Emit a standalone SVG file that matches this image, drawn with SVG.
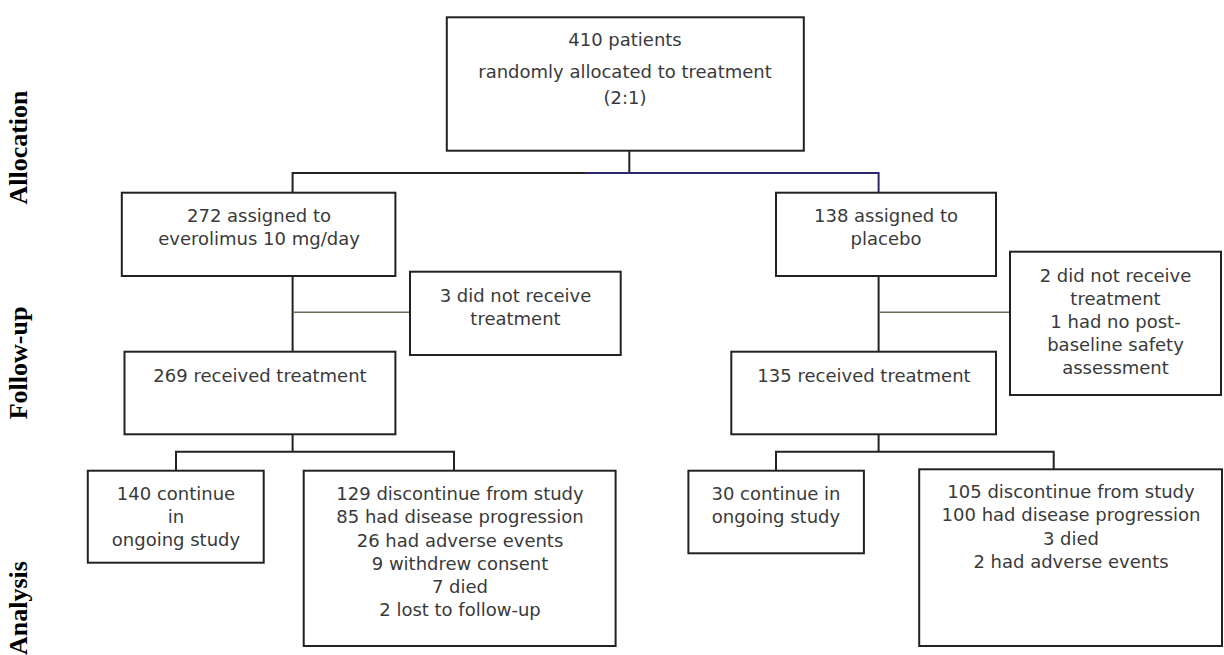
<svg xmlns="http://www.w3.org/2000/svg" width="1224" height="655" viewBox="0 0 1224 655">
<style>
.box{fill:#fff;stroke:#222;stroke-width:2}
.t{font-family:"DejaVu Sans","Liberation Sans",sans-serif;font-size:18px;fill:#3a3a3a;text-anchor:middle}
.lbl{font-family:"Liberation Serif","Times New Roman",serif;font-size:26px;font-weight:bold;fill:#000;text-anchor:middle}
.c{fill:none;stroke:#222;stroke-width:2}
.cl{fill:none;stroke:#6a6a58;stroke-width:1.5}
</style>
<rect width="1224" height="655" fill="#fff"/>
<g id="labels">
<text class="lbl" transform="translate(27,147.5) rotate(-90)">Allocation</text>
<text class="lbl" transform="translate(27,363) rotate(-90)">Follow-up</text>
<text class="lbl" transform="translate(27,608) rotate(-90)">Analysis</text>
</g>
<g id="connectors">
<path class="c" d="M629.3,151 V173"/>
<path class="c" d="M292.6,193 V173 H585"/>
<path class="c" stroke="#2a2a6a" style="stroke:#2a2a6a" d="M585,173 H878.6 V193"/>
<path class="c" d="M292.6,276 V352"/>
<path class="cl" d="M292.6,312.3 H410"/>
<path class="c" d="M878.6,276 V352"/>
<path class="cl" d="M878.6,312.3 H1010"/>
<path class="c" d="M292.6,434.3 V451.7"/>
<path class="c" d="M176,470.7 V451.7 H454 V470.7"/>
<path class="c" d="M878.6,434.3 V451.7"/>
<path class="c" d="M776,470.7 V451.7 H1053.7 V469.3"/>
</g>
<g id="n-top">
<rect class="box" x="446.8" y="17.3" width="357" height="133.4"/>
<text class="t" x="625" y="46">410 patients</text>
<text class="t" x="625" y="78">randomly allocated to treatment</text>
<text class="t" x="625" y="104">(2:1)</text>
</g>
<g id="n-everolimus">
<rect class="box" x="121.8" y="192.7" width="273.6" height="83.3"/>
<text class="t" x="259" y="222">272 assigned to</text>
<text class="t" x="259" y="245">everolimus 10 mg/day</text>
</g>
<g id="n-placebo">
<rect class="box" x="776" y="192.7" width="220" height="83.3"/>
<text class="t" x="886" y="222">138 assigned to</text>
<text class="t" x="886" y="245">placebo</text>
</g>
<g id="n-notrec-left">
<rect class="box" x="410" y="271.7" width="210.7" height="83.3"/>
<text class="t" x="515.5" y="302">3 did not receive</text>
<text class="t" x="515.5" y="325">treatment</text>
</g>
<g id="n-notrec-right">
<rect class="box" x="1010" y="251.7" width="211" height="143.3"/>
<text class="t" x="1115.5" y="282">2 did not receive</text>
<text class="t" x="1115.5" y="305">treatment</text>
<text class="t" x="1115.5" y="328">1 had no post-</text>
<text class="t" x="1115.5" y="351">baseline safety</text>
<text class="t" x="1115.5" y="374">assessment</text>
</g>
<g id="n-rec-left">
<rect class="box" x="124.5" y="351.7" width="270.9" height="82.6"/>
<text class="t" x="260" y="382">269 received treatment</text>
</g>
<g id="n-rec-right">
<rect class="box" x="731.3" y="351.7" width="264.7" height="82.6"/>
<text class="t" x="864" y="382">135 received treatment</text>
</g>
<g id="n-cont-left">
<rect class="box" x="87.8" y="470.7" width="175.9" height="92"/>
<text class="t" x="176" y="500">140 continue</text>
<text class="t" x="176" y="523">in</text>
<text class="t" x="176" y="546">ongoing study</text>
</g>
<g id="n-disc-left">
<rect class="box" x="303.7" y="470.7" width="311.9" height="175.3"/>
<text class="t" x="460" y="500">129 discontinue from study</text>
<text class="t" x="460" y="523">85 had disease progression</text>
<text class="t" x="460" y="546.5">26 had adverse events</text>
<text class="t" x="460" y="570">9 withdrew consent</text>
<text class="t" x="460" y="593">7 died</text>
<text class="t" x="460" y="616">2 lost to follow-up</text>
</g>
<g id="n-cont-right">
<rect class="box" x="688.4" y="470.7" width="175.5" height="82.6"/>
<text class="t" x="776" y="500">30 continue in</text>
<text class="t" x="776" y="523">ongoing study</text>
</g>
<g id="n-disc-right">
<rect class="box" x="919.2" y="469.3" width="302.8" height="176.7"/>
<text class="t" x="1071" y="498">105 discontinue from study</text>
<text class="t" x="1071" y="521">100 had disease progression</text>
<text class="t" x="1071" y="544.5">3 died</text>
<text class="t" x="1071" y="568">2 had adverse events</text>
</g>
</svg>
